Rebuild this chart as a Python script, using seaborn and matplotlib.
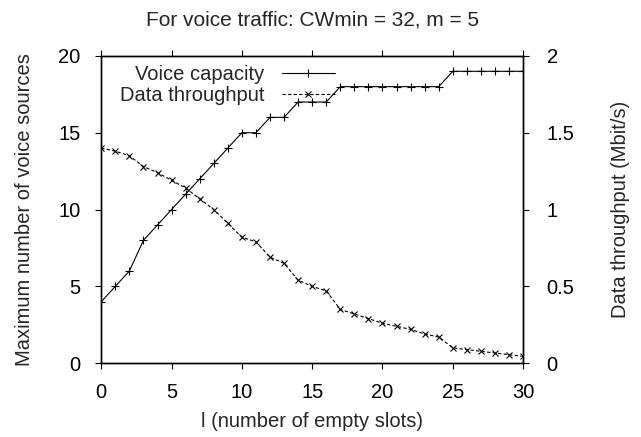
import matplotlib
matplotlib.use("Agg")
import matplotlib.pyplot as plt
import seaborn as sns
import pandas as pd

# l = number of empty slots
slots = list(range(31))

# left axis: voice sources
voice_capacity = [4, 5, 6, 8, 9, 10, 11, 12, 13, 14, 15, 15, 16, 16, 17, 17,
                  17, 18, 18, 18, 18, 18, 18, 18, 18, 19, 19, 19, 19, 19, 19]

# right axis: Mbit/s
data_throughput = [1.40, 1.38, 1.35, 1.28, 1.24, 1.19, 1.14, 1.07, 1.00, 0.91,
                   0.82, 0.79, 0.69, 0.65, 0.54, 0.50, 0.47, 0.35, 0.32, 0.29,
                   0.26, 0.24, 0.22, 0.19, 0.17, 0.10, 0.088, 0.077, 0.066,
                   0.055, 0.045]

x_ticks = [0, 5, 10, 15, 20, 25, 30]
y_ticks = [0, 5, 10, 15, 20]
y2_ticks = [0, 0.5, 1, 1.5, 2]
y2_labels = ["0", "0.5", "1", "1.5", "2"]

df = pd.DataFrame({"l": slots, "voice": voice_capacity, "data": data_throughput})

sns.set_theme(style="ticks")
plt.rcParams["font.family"] = ["Liberation Sans", "DejaVu Sans"]
plt.rcParams["axes.linewidth"] = 1.0
fs = 14.5

fig, ax = plt.subplots(figsize=(6.41, 4.37), dpi=100)
fig.subplots_adjust(left=0.158, right=0.816, top=0.872, bottom=0.169)
ax2 = ax.twinx()

sns.lineplot(data=df, x="l", y="voice", ax=ax, color="black", lw=0.8,
             marker="+", ms=6, mew=0.8, mec="black",
             label="Voice capacity", legend=False)
sns.lineplot(data=df, x="l", y="data", ax=ax2, color="black", lw=0.8,
             linestyle=(0, (3, 2)), marker="x", ms=5, mew=0.8, mec="black",
             label="Data throughput", legend=False)

ax.set_xlim(0, 30)
ax.set_ylim(0, 20)
ax2.set_ylim(0, 2)
ax.set_xticks(x_ticks)
ax.set_yticks(y_ticks)
ax2.set_yticks(y2_ticks)
ax2.set_yticklabels(y2_labels)

for a in (ax, ax2):
    a.tick_params(direction="out", length=4, width=0.8, labelsize=fs,
                  colors="black")
    for s in a.spines.values():
        s.set_visible(True)
        s.set_color("black")
ax.tick_params(axis="x", top=True, pad=10.5)
ax.tick_params(axis="y", pad=11)
ax2.tick_params(axis="y", pad=13)

ax.set_xlabel("l (number of empty slots)", fontsize=fs, labelpad=7)
ax.set_ylabel("Maximum number of voice sources", fontsize=fs, labelpad=17.5)
ax2.set_ylabel("Data throughput (Mbit/s)", fontsize=fs, labelpad=26)
ax.set_title("For voice traffic: CWmin = 32, m = 5", fontsize=15, pad=22)

h1, l1 = ax.get_legend_handles_labels()
h2, l2 = ax2.get_legend_handles_labels()
ax2.legend(h1 + h2, l1 + l2, loc="upper right", bbox_to_anchor=(0.584, 1.013),
           frameon=False, markerfirst=False, fontsize=fs, handlelength=2.6,
           handletextpad=0.9, borderpad=0.15, labelspacing=0.1)

fig.savefig("out.png", dpi=100)
